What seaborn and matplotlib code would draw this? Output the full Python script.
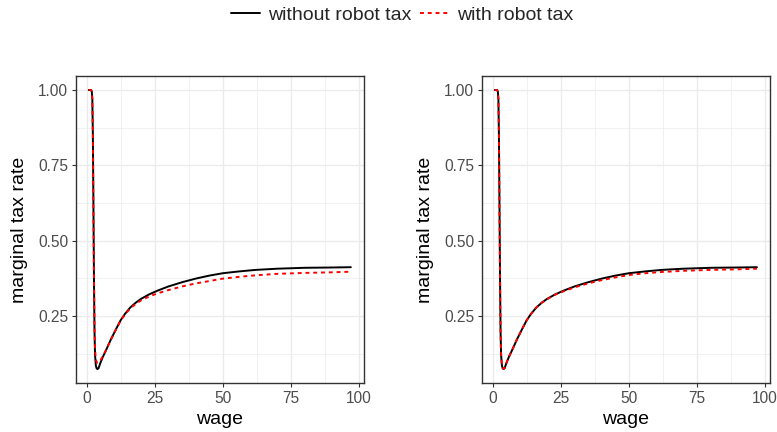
import matplotlib.pyplot as plt
import numpy as np
import pandas as pd
import seaborn as sns
from matplotlib.lines import Line2D
from matplotlib.ticker import MultipleLocator, FormatStrFormatter

# values
wage = [0.8, 1.2, 1.6, 1.9, 2.1, 2.3, 2.5, 2.7, 2.9, 3.1, 3.4, 3.7, 4.0, 4.4,
        5, 6, 7, 8, 9, 10, 11, 12.5, 14, 16, 18, 20, 23, 26, 30, 35, 40, 45,
        50, 56, 62, 70, 80, 90, 97]

no_tax = [1.0, 1.0, 1.0, 0.995, 0.97, 0.85, 0.62, 0.38, 0.2, 0.12, 0.085,
          0.076, 0.074, 0.077, 0.093, 0.115, 0.134, 0.154, 0.174, 0.192,
          0.21, 0.236, 0.256, 0.278, 0.294, 0.307, 0.322, 0.334, 0.348,
          0.362, 0.374, 0.384, 0.392, 0.398, 0.403, 0.407, 0.41, 0.411, 0.412]

tax_left = [1.0, 1.0, 1.0, 0.995, 0.97, 0.85, 0.62, 0.38, 0.21, 0.14, 0.105,
            0.097, 0.095, 0.096, 0.102, 0.117, 0.135, 0.154, 0.173, 0.191,
            0.209, 0.235, 0.254, 0.275, 0.29, 0.302, 0.315, 0.325, 0.336,
            0.348, 0.358, 0.366, 0.374, 0.38, 0.385, 0.39, 0.393, 0.395, 0.397]

tax_right = [1.0, 1.0, 1.0, 0.995, 0.97, 0.85, 0.62, 0.38, 0.2, 0.12, 0.086,
             0.077, 0.075, 0.078, 0.093, 0.115, 0.134, 0.154, 0.174, 0.192,
             0.21, 0.236, 0.256, 0.278, 0.294, 0.306, 0.321, 0.332, 0.345,
             0.358, 0.369, 0.378, 0.386, 0.392, 0.396, 0.4, 0.403, 0.405, 0.407]

labels = ['without robot tax', 'with robot tax']
colors = {labels[0]: 'black', labels[1]: 'red'}
dashes = {labels[0]: '', labels[1]: (2, 2)}

sns.set_theme(style="white")
plt.rcParams['font.family'] = ['Liberation Sans', 'DejaVu Sans']

fig = plt.figure(figsize=(7.77, 4.32), dpi=100)
ax1 = fig.add_axes([0.0974, 0.1134, 0.371, 0.7106])
ax2 = fig.add_axes([0.62, 0.1134, 0.371, 0.7106])

for ax, tax in [(ax1, tax_left), (ax2, tax_right)]:
    df = pd.concat([
        pd.DataFrame({'wage': wage, 'rate': no_tax, 'scenario': labels[0]}),
        pd.DataFrame({'wage': wage, 'rate': tax, 'scenario': labels[1]}),
    ])
    sns.lineplot(data=df, x='wage', y='rate', hue='scenario', style='scenario',
                 palette=colors, dashes=dashes, estimator=None, linewidth=1.4,
                 legend=False, ax=ax)
    ax.margins(x=0.05, y=0.05)
    ax.xaxis.set_major_locator(MultipleLocator(25))
    ax.xaxis.set_minor_locator(MultipleLocator(12.5))
    ax.yaxis.set_major_locator(MultipleLocator(0.25))
    ax.yaxis.set_minor_locator(MultipleLocator(0.125))
    ax.yaxis.set_major_formatter(FormatStrFormatter('%.2f'))
    ax.grid(which='major', color='#EBEBEB', linewidth=1.0)
    ax.grid(which='minor', color='#EBEBEB', linewidth=0.5)
    ax.set_axisbelow(True)
    for s in ax.spines.values():
        s.set_color('#333333')
        s.set_linewidth(1.0)
    ax.tick_params(which='major', direction='out', length=3, width=0.8,
                   color='#333333', labelcolor='#4D4D4D', labelsize=11.2,
                   bottom=True, left=True, pad=2.5)
    ax.tick_params(which='minor', length=0)
    ax.set_xlabel('wage', fontsize=14, color='black', labelpad=4)
    ax.set_ylabel('marginal tax rate', fontsize=14, color='black', labelpad=7)

ax1.set_ylim(ax1.get_ylim())
ax2.set_xlim(ax1.get_xlim())

handles = [Line2D([], [], color='black', linewidth=1.4),
           Line2D([], [], color='red', linewidth=1.4, dashes=(2, 2))]
fig.legend(handles, labels, loc='center', bbox_to_anchor=(0.518, 0.965),
           ncol=2, frameon=False, fontsize=14, handlelength=1.45,
           handletextpad=0.45, columnspacing=0.45)

fig.savefig('out.png', dpi=100)
